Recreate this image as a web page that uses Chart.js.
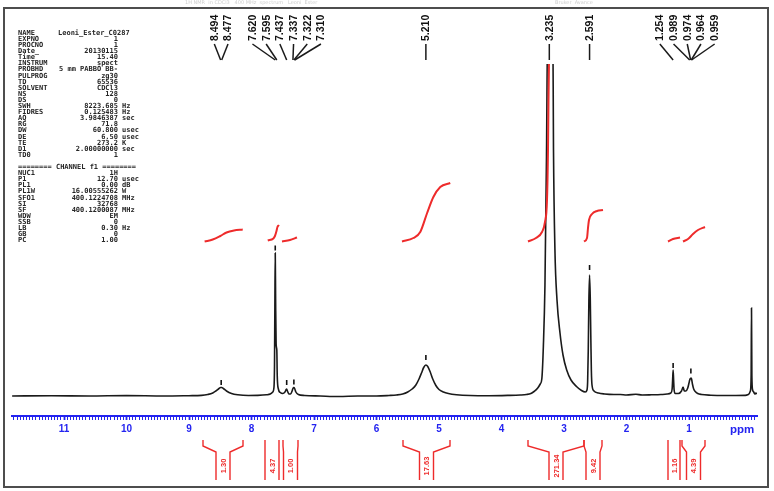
<!DOCTYPE html>
<html><head><meta charset="utf-8">
<script src="https://cdn.jsdelivr.net/npm/chart.js@4.4.0/dist/chart.umd.min.js"></script>
<style>html,body{margin:0;padding:0;background:#fff;}#wrap{width:774px;height:491px;position:relative;}</style>
</head><body><div id="wrap"><canvas id="c" width="774" height="491"></canvas></div>
<script>
// ---- spectrum (ppm, relative intensity) ----
const spectrumPpm = [11.83,11.2,10.6,10.0,9.4,9.0,8.80,8.70,8.62,8.56,8.52,8.494,8.477,8.45,8.40,8.32,8.22,8.05,7.90,7.76,7.70,7.66,7.64,7.632,7.626,7.620,7.614,7.606,7.595,7.588,7.57,7.54,7.50,7.465,7.445,7.437,7.425,7.40,7.375,7.35,7.337,7.322,7.310,7.29,7.25,7.15,6.9,6.6,6.3,6.0,5.80,5.68,5.58,5.50,5.43,5.37,5.32,5.28,5.245,5.21,5.18,5.14,5.10,5.05,5.00,4.93,4.85,4.72,4.5,4.2,3.9,3.70,3.60,3.53,3.48,3.42,3.38,3.355,3.33,3.305,3.28,3.26,3.18,3.168,3.145,3.112,3.064,3.016,2.957,2.888,2.80,2.72,2.66,2.632,2.622,2.612,2.602,2.591,2.580,2.570,2.562,2.552,2.52,2.45,2.35,2.2,2.1,2.0,1.85,1.75,1.6,1.45,1.35,1.29,1.27,1.262,1.254,1.246,1.238,1.22,1.17,1.12,1.095,1.075,1.05,1.02,1.0,0.989,0.976,0.966,0.959,0.945,0.925,0.90,0.86,0.80,0.65,0.45,0.25,0.10,0.05,0.018,0.006,0.0,-0.006,-0.018,-0.035,-0.055,-0.07,-0.088];
const spectrumIntensity = [0,0.3,0,0.4,0,0.3,0.6,1.5,3,5.5,7.5,8.5,8.5,7.5,5,2.5,1.2,0.5,0.6,1.2,2,4,9,30,90,143,95,52,46,20,7,3.5,2.5,4,6.5,7,5,2,2,5,7.5,8.5,7.5,4,1.5,0.5,0,-0.5,0,0,0.5,1,2,4,7,11,17,23,28.5,31,29.5,24,17,10.5,6.5,4,2.5,1.3,0.5,0.3,0.6,1,1.5,2.5,4.5,8,12,17,50,110,240,380,380,246,146,96,63,41,26,16,9.5,5.5,4,6,14,45,95,121,98,55,25,11,5,3,2,1.5,1.5,1,1.8,1,1.2,1.5,2,3,7,16,26,16,6,2.5,2.5,5,9,5,5,8,13,16,17.5,18,17,12,7,4.5,2.5,1.5,0.8,0.5,0.5,0.6,1.5,5,20,88,20,6,4,2,3,2];

// ---- integral curves ----
const integralCurvePpm = [
  [8.75,8.62,8.50,8.40,8.28,8.14],
  [7.74,7.65,7.625,7.60,7.585,7.56],
  [7.512,7.384,7.272],
  [5.592,5.41,5.30,5.19,5.09,4.98,4.82],
  [3.576,3.448,3.352,3.304,3.272,3.256,3.248,3.238],
  [2.68,2.632,2.616,2.60,2.552,2.472,2.376],
  [1.336,1.256,1.144],
  [1.096,1.016,0.936,0.856,0.744]
];
const integralCurveValue = [
  [154.5,156.5,160,163.5,165.5,166.5],
  [155.5,157.5,160,165,169,171],
  [154.5,156,158.5],
  [154.5,158,164,183,199,209,213],
  [154.5,158,164,174,196,246,296,345],
  [154.5,158,168,176,182,185,186],
  [154.5,157,158.5],
  [154.5,157,162,166,169]
];

// ---- integration regions (ppm) and values ----
const integralFrom = [8.776,7.784,7.496,5.576,3.576,2.68,1.336,1.112];
const integralTo   = [8.136,7.56,7.256,4.824,2.68,2.392,1.144,0.744];
const integralValues = ['1.30','4.37','1.00','17.63','271.34','9.42','1.16','4.39'];

// ---- peak picking ----
const peakLabels = ['8.494','8.477','7.620','7.595','7.437','7.337','7.322','7.310','5.210','3.235','2.591','1.254','0.989','0.974','0.964','0.959'];
const markerPpm = [8.485,7.62,7.437,7.322,5.21,2.591,1.254,0.97];
const markerIntensity = [13.5,148,13.5,14,38.5,128.5,30.5,25];

// ---- axis ----
const majorTicks = [11,10,9,8,7,6,5,4,3,2,1];
const unitLabel = 'ppm';

// ---- acquisition parameters ----
const paramNames = ['NAME','EXPNO','PROCNO','Date_','Time','INSTRUM','PROBHD','PULPROG','TD','SOLVENT','NS','DS','SWH','FIDRES','AQ','RG','DW','DE','TE','D1','TD0','','======== CHANNEL f1 ========','NUC1','P1','PL1','PL1W','SFO1','SI','SF','WDW','SSB','LB','GB','PC'];
const paramValues = ['Leoni_Ester_C0287','1','1','20130115','15.40','spect','5 mm PABBO BB-','zg30','65536','CDCl3','128','0','8223.685','0.125483','3.9846387','71.8','60.800','6.50','273.2','2.00000000','1','','','1H','12.70','0.00','16.00555262','400.1224708','32768','400.1200087','EM','0','0.30','0','1.00'];
const paramUnits = ['','','','','','','','','','','','','Hz','Hz','sec','','usec','usec','K','sec','','','','','usec','dB','W','MHz','','MHz','','','Hz','',''];

const BLUE = '#2424f0', RED = '#ee2b2b';

function spread(desired, gap){
  let groups = desired.map((d,i)=>({s:i,e:i,c:d}));
  let changed = true;
  while(changed){
    changed = false;
    for(let k=0;k<groups.length-1;k++){
      const g1=groups[k], g2=groups[k+1];
      const n1=g1.e-g1.s+1, n2=g2.e-g2.s+1;
      const r1=g1.c+(n1-1)/2*gap, l2=g2.c-(n2-1)/2*gap;
      if(l2-r1<gap){
        const s=g1.s,e=g2.e; let sum=0;
        for(let i=s;i<=e;i++) sum+=desired[i];
        groups.splice(k,2,{s,e,c:sum/(e-s+1)}); changed=true; break;
      }
    }
  }
  const out=[];
  groups.forEach(g=>{const n=g.e-g.s+1; for(let i=g.s;i<=g.e;i++) out[i]=g.c+(i-g.s-(n-1)/2)*gap;});
  return out;
}

const overlay = {
  id:'overlay',
  afterDraw(chart){
    const ctx = chart.ctx, xs = chart.scales.x;
    ctx.save();
    // faint header
    ctx.fillStyle='#cfcfcf'; ctx.font='5px "DejaVu Sans"'; ctx.textBaseline='middle';
    ctx.fillText('1H NMR  in CDCl3   400 MHz  spectrum   Leoni  Ester', 185, 3);
    ctx.fillText('Bruker  Avance', 555, 3);
    // frame
    ctx.strokeStyle='#4d4d4d'; ctx.lineWidth=2;
    ctx.strokeRect(4,8,764,479);
    // parameters
    ctx.fillStyle='#262626'; ctx.font='bold 7px "DejaVu Sans Mono"'; ctx.textBaseline='middle';
    paramNames.forEach((n,i)=>{
      const y = 33 + i*6.1;
      ctx.textAlign='left'; ctx.fillText(n,18,y);
      if(i===0){ ctx.fillText(paramValues[i],58,y); return; }
      if(paramValues[i]){ ctx.textAlign='right'; ctx.fillText(paramValues[i],118,y); }
      if(paramUnits[i]){ ctx.textAlign='left'; ctx.fillText(paramUnits[i],122,y); }
    });
    // peak labels
    const desired = peakLabels.map(l=>xs.getPixelForValue(parseFloat(l)));
    const pos = spread(desired, 13.7);
    ctx.strokeStyle='#1a1a1a'; ctx.lineWidth=1.5; ctx.fillStyle='#111';
    ctx.font='bold 10.5px "Liberation Sans"';
    peakLabels.forEach((l,i)=>{
      ctx.beginPath(); ctx.moveTo(pos[i],44); ctx.lineTo(desired[i],60); ctx.stroke();
      ctx.save(); ctx.translate(pos[i],41); ctx.rotate(-Math.PI/2);
      ctx.textAlign='left'; ctx.textBaseline='middle'; ctx.fillText(l,0,0.5); ctx.restore();
    });
    // integral brackets
    ctx.strokeStyle=RED; ctx.fillStyle=RED; ctx.lineWidth=1.4;
    ctx.font='bold 7.5px "Liberation Sans"';
    integralFrom.forEach((f,i)=>{
      const a=xs.getPixelForValue(f), b=xs.getPixelForValue(integralTo[i]);
      const xl=Math.min(a,b), xr=Math.max(a,b), xc=(xl+xr)/2, w=Math.min(7,(xr-xl)/2);
      ctx.beginPath();
      ctx.moveTo(xl,440); ctx.lineTo(xl,446); ctx.lineTo(xc-w,452); ctx.lineTo(xc-w,480);
      ctx.moveTo(xr,440); ctx.lineTo(xr,446); ctx.lineTo(xc+w,452); ctx.lineTo(xc+w,480);
      ctx.stroke();
      ctx.save(); ctx.translate(xc,466); ctx.rotate(-Math.PI/2);
      ctx.textAlign='center'; ctx.textBaseline='middle'; ctx.fillText(integralValues[i],0,0.5); ctx.restore();
    });
    ctx.restore();
  }
};

const datasets = [];
integralCurvePpm.forEach((arr,k)=>{
  datasets.push({data:arr.map((p,i)=>({x:p,y:integralCurveValue[k][i]})),borderColor:RED,borderWidth:2,pointRadius:0,cubicInterpolationMode:'monotone',fill:false});
});
datasets.push({data:markerPpm.map((p,i)=>({x:p,y:markerIntensity[i]})),showLine:false,pointStyle:'line',rotation:90,pointRadius:2.5,borderColor:'#111',borderWidth:1.6,backgroundColor:'#111'});
datasets.push({data:spectrumPpm.map((p,i)=>({x:p,y:spectrumIntensity[i]})),borderColor:'#1a1a1a',borderWidth:1.6,pointRadius:0,cubicInterpolationMode:'monotone',fill:false});

const isMajor = v => Math.abs(v-Math.round(v))<1e-6 && majorTicks.includes(Math.round(v));

new Chart(document.getElementById('c'),{
  type:'line',
  data:{datasets},
  plugins:[overlay],
  options:{
    responsive:false, animation:false, devicePixelRatio:1,
    layout:{padding:{top:64,left:12,right:17,bottom:53}},
    plugins:{legend:{display:false},tooltip:{enabled:false}},
    scales:{
      x:{
        type:'linear', reverse:true, min:-0.088, max:11.832,
        afterFit(s){ s.height=22; },
        border:{display:true,color:BLUE,width:2},
        grid:{drawOnChartArea:false,drawTicks:true,tickLength:4,color:BLUE,tickColor:BLUE,
              tickWidth:c=> (c.tick && isMajor(c.tick.value)) ? 1.8 : 1},
        ticks:{stepSize:0.05,autoSkip:false,maxRotation:0,minRotation:0,includeBounds:false,padding:3,color:BLUE,
               font:c=>({family:'Liberation Sans',weight:'bold',size:(c.tick && Math.abs(c.tick.value-0.15)<1e-6)?11.5:10}),
               callback:v=>{ if(isMajor(v)) return String(Math.round(v)); if(Math.abs(v-0.15)<1e-6) return unitLabel; return ''; }}
      },
      y:{display:false,min:-20,max:332}
    }
  }
});
</script></body></html>
